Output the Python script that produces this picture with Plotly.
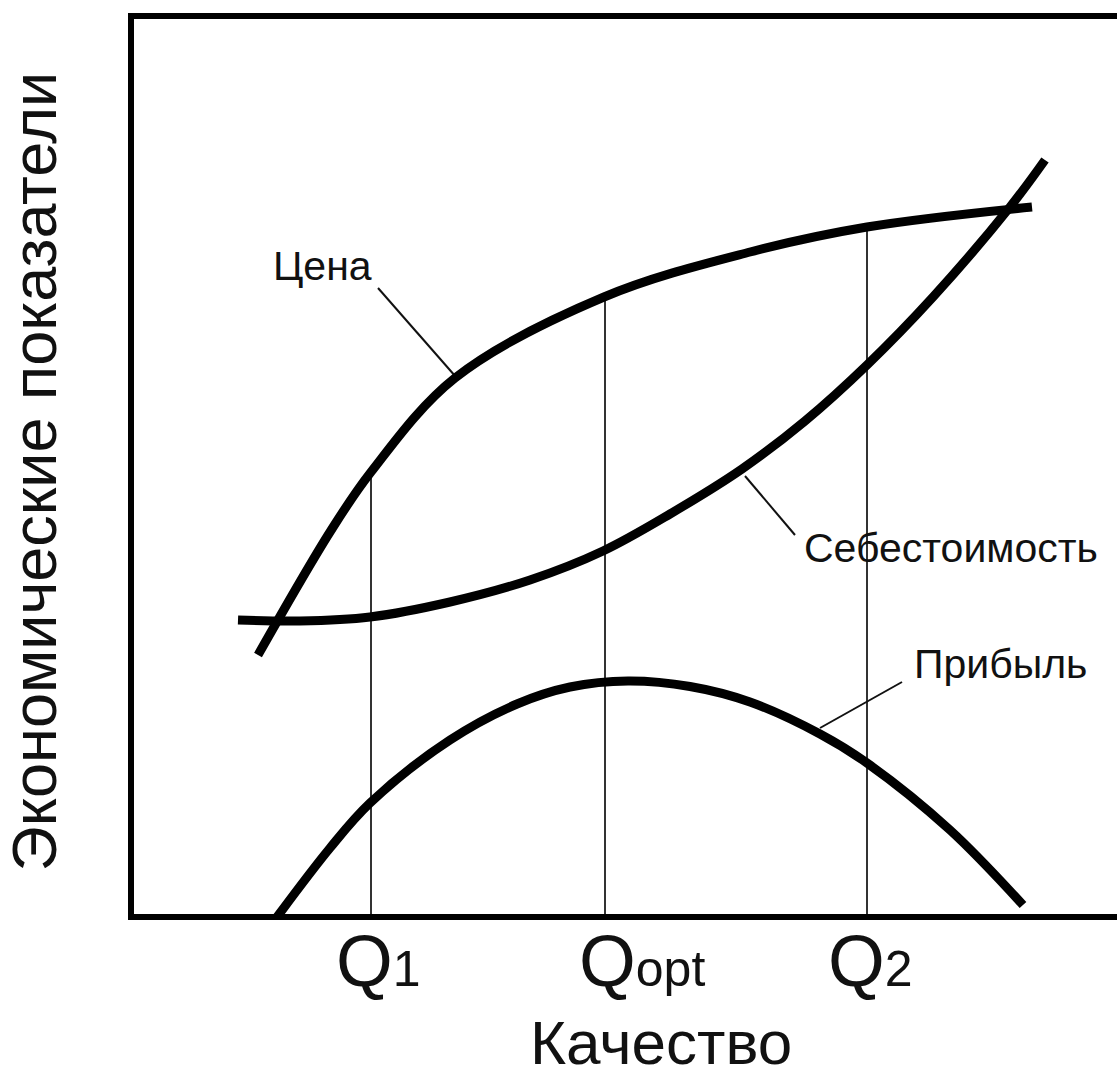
import plotly.graph_objects as go

# ---- data (arbitrary units) ----
price_x = [12.7, 19.9, 24.0, 32.4, 47.3, 61.9, 73.6, 90.1]
price_y = [26.2, 38.5, 44.5, 53.9, 62.0, 66.5, 69.0, 71.0]

cost_x = [10.7, 16.9, 23.9, 31.9, 39.9, 47.2, 53.9, 61.1, 67.4, 73.6, 80.2, 87.9, 91.4]
cost_y = [29.7, 29.6, 30.0, 31.5, 33.7, 36.6, 40.3, 44.8, 49.6, 55.2, 62.0, 71.0, 75.7]

profit_x = [14.6, 19.9, 23.9, 31.9, 38.6, 43.9, 49.7, 55.9, 61.9, 68.9, 73.6, 81.9, 89.2]
profit_y = [0.0, 6.9, 11.4, 17.7, 21.3, 23.0, 23.6, 23.05, 21.5, 18.3, 15.4, 8.7, 1.2]

q_values = [24.0, 47.4, 73.6]
q_tops = [44.5, 62.0, 69.0]
q_labels = ["Q<span style='font-size:50px'>1</span>",
            "Q<span style='font-size:50px'>opt</span>",
            "Q<span style='font-size:50px'>2</span>"]
q_label_shift = [7, 37, 3]

curve_labels = ["Цена", "Себестоимость", "Прибыль"]
label_x = [14.0, 67.1, 78.1]
label_y = [65.1, 36.9, 25.3]
leader_x = [[24.7, 32.5], [61.4, 66.4], [68.9, 77.1]]
leader_y = [[62.9, 54.0], [44.1, 38.2], [18.9, 23.5]]

x_title = "Качество"
y_title = "Экономические показатели"

FONT = "Liberation Sans, Arial, sans-serif"

fig = go.Figure()

# vertical guide lines
for qx, qt in zip(q_values, q_tops):
    fig.add_trace(go.Scatter(x=[qx, qx], y=[0, qt], mode="lines",
                             line=dict(color="#333333", width=2), hoverinfo="skip"))

# leader lines
for lx, ly in zip(leader_x, leader_y):
    fig.add_trace(go.Scatter(x=lx, y=ly, mode="lines",
                             line=dict(color="#111111", width=2), hoverinfo="skip"))

# main curves
for xs, ys in [(price_x, price_y), (cost_x, cost_y), (profit_x, profit_y)]:
    fig.add_trace(go.Scatter(x=xs, y=ys, mode="lines",
                             line=dict(color="#000000", width=9, shape="spline", smoothing=1.0),
                             hoverinfo="skip"))

annotations = []
for txt, ax_, ay_ in zip(curve_labels, label_x, label_y):
    annotations.append(dict(x=ax_, y=ay_, xref="x", yref="y", text=txt, showarrow=False,
                            xanchor="left", yanchor="middle",
                            font=dict(family=FONT, size=41, color="#111111")))
for qx, lab, sh in zip(q_values, q_labels, q_label_shift):
    annotations.append(dict(x=qx, y=0, xref="x", yref="paper", text=lab, showarrow=False,
                            xanchor="center", yanchor="top", xshift=sh, yshift=-4,
                            font=dict(family=FONT, size=73, color="#111111")))
annotations.append(dict(x=0.536, y=0, xref="paper", yref="paper", text=x_title, showarrow=False,
                        xanchor="center", yanchor="top", yshift=-92,
                        font=dict(family=FONT, size=62, color="#111111")))
annotations.append(dict(x=0, y=0.5, xref="paper", yref="paper", text=y_title, showarrow=False,
                        xanchor="right", yanchor="middle", xshift=-64, yshift=-5, textangle=-90,
                        font=dict(family=FONT, size=63, color="#111111")))

fig.update_layout(
    width=1117, height=1076,
    margin=dict(l=134, r=0, t=19, b=162),
    paper_bgcolor="white", plot_bgcolor="white",
    showlegend=False,
    annotations=annotations,
    xaxis=dict(range=[0.3, 98.6], showline=True, mirror=True, linecolor="#000000", linewidth=6,
               showgrid=False, zeroline=False, showticklabels=False, ticks=""),
    yaxis=dict(range=[0.3, 89.8], showline=True, mirror=False, linecolor="#000000", linewidth=6,
               showgrid=False, zeroline=False, showticklabels=False, ticks=""),
)

fig.write_html("out.html", config={"displayModeBar": False},
               post_script="document.body.style.margin='0';document.body.style.overflow='hidden';")
